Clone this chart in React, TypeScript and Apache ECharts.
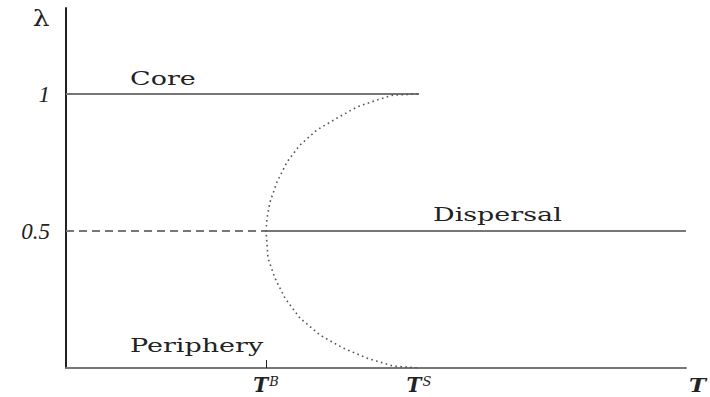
import React, { useEffect, useRef } from "react";
import * as echarts from "echarts";

// ---- data ----
const T_B = 2.0;
const T_S = 3.53;
const T_MAX = 6.2;
const LAMBDA_MAX = 1.314;

const yTickValues = [0.5, 1];
const yTickLabels = ["0.5", "1"];
const xTickValues = [T_B, T_S];
const xTickSup = ["B", "S"];
const xTickBase = "T";
const xAxisName = "T";
const yAxisName = "λ";

const coreT = [0, T_S];
const coreLambda = [1, 1];
const dispersalDashedT = [0, T_B];
const dispersalDashedLambda = [0.5, 0.5];
const dispersalSolidT = [T_B, T_MAX];
const dispersalSolidLambda = [0.5, 0.5];

const curveT = [3.52, 3.27, 3.11, 2.91, 2.71, 2.51, 2.34, 2.21, 2.11, 2.04, 2.01, 2.0, 2.02, 2.09, 2.19, 2.34, 2.54, 2.77, 3.01, 3.27, 3.52];
const curveLambda = [1.0, 0.996, 0.978, 0.953, 0.912, 0.869, 0.814, 0.752, 0.679, 0.606, 0.547, 0.5, 0.401, 0.328, 0.255, 0.182, 0.12, 0.073, 0.036, 0.007, 0];

const regionNames = ["Core", "Dispersal", "Periphery"];
const regionT = [0.64, 3.67, 0.64];
const regionLambda = [1, 0.5, 0];

// ---- styles ----
const LINE_COLOR = "#777";
const TEXT_COLOR = "#222";
const SERIF = "DejaVu Serif";
const regionOffsetY = [-16, -17, -23];
const STRETCH = 1.42;

const zip = (a: number[], b: number[]) => a.map((v, i) => [v, b[i]]);

export default function App() {
  const ref = useRef<HTMLDivElement>(null);
  useEffect(() => {
    document.body.style.margin = "0";
    const chart = echarts.init(ref.current!, null, { renderer: "svg" });
    const lineBase = { type: "line", showSymbol: false, symbol: "none", silent: true };
    chart.setOption({
      animation: false,
      backgroundColor: "#fff",
      grid: { left: 66, right: 24, top: 8, bottom: 29 },
      xAxis: {
        type: "value",
        min: 0,
        max: T_MAX,
        splitLine: { show: false },
        axisLine: { show: true, lineStyle: { color: LINE_COLOR, width: 2 } },
        axisTick: {
          show: true,
          inside: true,
          length: 8,
          customValues: [T_B],
          lineStyle: { color: TEXT_COLOR, width: 1 },
        },
        axisLabel: {
          show: true,
          customValues: xTickValues,
          margin: 7,
          formatter: (v: number) => {
            const i = xTickValues.findIndex((x) => Math.abs(x - v) < 1e-6);
            return i < 0 ? "" : `{t|${xTickBase}}{s|${xTickSup[i]}}`;
          },
          rich: {
            t: { fontFamily: SERIF, fontStyle: "italic", fontWeight: "bold", fontSize: 20, lineHeight: 19, color: TEXT_COLOR },
            s: { fontFamily: SERIF, fontStyle: "italic", fontSize: 13, lineHeight: 13, color: TEXT_COLOR, verticalAlign: "top", padding: [0, 0, 0, 1] },
          },
        },
      },
      yAxis: {
        type: "value",
        min: 0,
        max: LAMBDA_MAX,
        splitLine: { show: false },
        axisLine: { show: true, lineStyle: { color: TEXT_COLOR, width: 2 } },
        axisTick: { show: false },
        axisLabel: {
          show: true,
          customValues: yTickValues,
          margin: 16,
          formatter: (v: number) => {
            const i = yTickValues.findIndex((x) => Math.abs(x - v) < 1e-6);
            return i < 0 ? "" : yTickLabels[i];
          },
          fontFamily: "Liberation Serif",
          fontStyle: "italic",
          fontSize: 23,
          color: TEXT_COLOR,
        },
      },
      series: [
        { ...lineBase, name: "Core", data: zip(coreT, coreLambda), lineStyle: { color: LINE_COLOR, width: 2 } },
        { ...lineBase, name: "DispersalDashed", data: zip(dispersalDashedT, dispersalDashedLambda), lineStyle: { color: LINE_COLOR, width: 2, type: [8, 5] } },
        { ...lineBase, name: "Dispersal", data: zip(dispersalSolidT, dispersalSolidLambda), lineStyle: { color: LINE_COLOR, width: 2 } },
        { ...lineBase, name: "Bifurcation", data: zip(curveT, curveLambda), smooth: false, lineStyle: { color: "#555", width: 1.6, type: [1.6, 3.4] } },
      ],
    });

    const px = (t: number, l: number) => chart.convertToPixel({ gridIndex: 0 }, [t, l]) as number[];
    const graphics: any[] = regionNames.map((name, i) => {
      const p = px(regionT[i], regionLambda[i]);
      return {
        type: "text",
        x: p[0],
        y: p[1] + regionOffsetY[i],
        scaleX: STRETCH,
        silent: true,
        style: { text: name, fontFamily: SERIF, fontSize: 19, fill: TEXT_COLOR, align: "left", verticalAlign: "middle" },
      };
    });
    const top = px(0, LAMBDA_MAX);
    graphics.push({
      type: "text",
      x: top[0] - 25,
      y: top[1] + 10,
      scaleX: 1.15,
      silent: true,
      style: { text: yAxisName, fontFamily: SERIF, fontSize: 23, lineHeight: 22, fill: TEXT_COLOR, align: "center", verticalAlign: "middle" },
    });
    const end = px(T_MAX, 0);
    graphics.push({
      type: "text",
      x: end[0] + 3,
      y: end[1] + 17,
      scaleX: 1.2,
      silent: true,
      style: { text: xAxisName, fontFamily: SERIF, fontStyle: "italic", fontWeight: "bold", fontSize: 19, lineHeight: 19, fill: TEXT_COLOR, align: "left", verticalAlign: "middle" },
    });
    chart.setOption({ graphic: graphics });
    return () => chart.dispose();
  }, []);
  return <div ref={ref} style={{ width: 710, height: 397 }} />;
}
